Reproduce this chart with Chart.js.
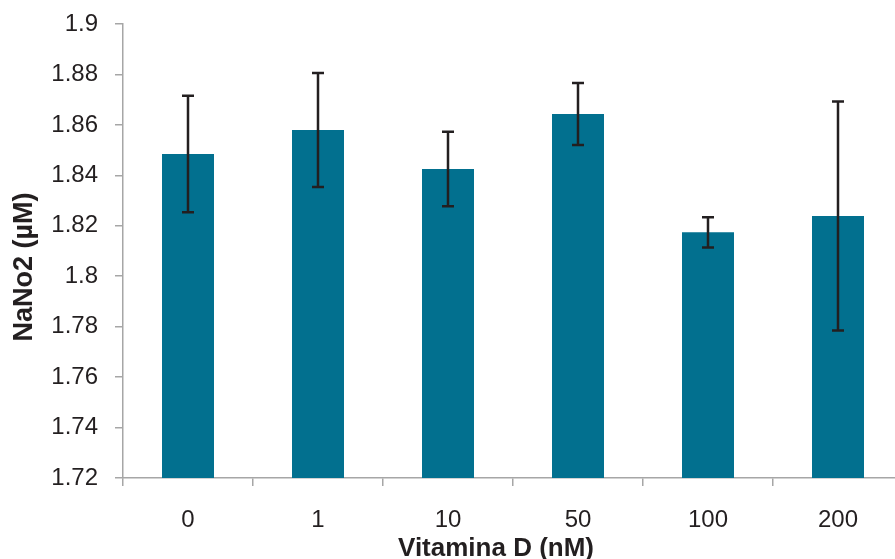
<!DOCTYPE html>
<html>
<head>
<meta charset="utf-8">
<script src="https://cdn.jsdelivr.net/npm/chart.js@4.4.1/dist/chart.umd.min.js"></script>
<style>
  html, body { margin: 0; padding: 0; background: #fff; overflow: hidden; }
  #wrap { width: 905px; height: 559px; }
</style>
</head>
<body>
<div id="wrap"><canvas id="nitriteChart" width="905" height="559"></canvas></div>
<script>
// --------------------
// Data
// --------------------
const doseLabels = ['0', '1', '10', '50', '100', '200'];
const nitriteMeans = [1.8485, 1.8580, 1.8425, 1.8643, 1.8174, 1.8239];
const nitriteErrors = [0.0231, 0.0226, 0.0148, 0.0123, 0.0060, 0.0454];
const yTickValues = [1.72, 1.74, 1.76, 1.78, 1.8, 1.82, 1.84, 1.86, 1.88, 1.9];
const yTickLabels = ['1.72', '1.74', '1.76', '1.78', '1.8', '1.82', '1.84', '1.86', '1.88', '1.9'];

const axisColor = '#a6a6a6';
const textColor = '#231f20';
const fontFamily = '"Liberation Sans", Arial, sans-serif';

// --------------------
// Error bars
// --------------------
const errorBarPlugin = {
    id: 'errorBars',
    afterDatasetsDraw(chart) {
        const { ctx } = chart;
        const yScale = chart.scales.y;
        const meta = chart.getDatasetMeta(0);
        ctx.save();
        ctx.strokeStyle = '#231f20';
        ctx.lineWidth = 2.5;
        meta.data.forEach((bar, i) => {
            const top = yScale.getPixelForValue(nitriteMeans[i] + nitriteErrors[i]);
            const bottom = yScale.getPixelForValue(nitriteMeans[i] - nitriteErrors[i]);
            const x = bar.x;
            ctx.beginPath();
            ctx.moveTo(x, top);
            ctx.lineTo(x, bottom);
            ctx.moveTo(x - 6, top);
            ctx.lineTo(x + 6, top);
            ctx.moveTo(x - 6, bottom);
            ctx.lineTo(x + 6, bottom);
            ctx.stroke();
        });
        ctx.restore();
    }
};

// axis titles, placed off the plot centre like the Excel original
const axisTitlePlugin = {
    id: 'axisTitles',
    afterDraw(chart) {
        const { ctx, chartArea } = chart;
        ctx.save();
        ctx.fillStyle = textColor;
        ctx.textAlign = 'center';
        ctx.textBaseline = 'alphabetic';
        ctx.font = 'bold 26px ' + fontFamily;
        ctx.fillText('Vitamina D (nM)', (chartArea.left + chartArea.right) / 2 - 17, chartArea.bottom + 78);

        ctx.font = 'bold 27px ' + fontFamily;
        ctx.translate(32, (chartArea.top + chartArea.bottom) / 2 + 16);
        ctx.rotate(-Math.PI / 2);
        ctx.fillText('NaNo2 (µM)', 0, 0);
        ctx.restore();
    }
};

// --------------------
// Chart
// --------------------
const ctx = document.getElementById('nitriteChart').getContext('2d');

new Chart(ctx, {
    type: 'bar',
    data: {
        labels: doseLabels,
        datasets: [{
            data: nitriteMeans,
            backgroundColor: '#02708f',
            borderWidth: 0,
            barPercentage: 0.8,
            categoryPercentage: 0.5
        }]
    },
    options: {
        responsive: false,
        animation: false,
        layout: { padding: { top: 24, right: 2, left: 0, bottom: 0 } },
        plugins: {
            legend: { display: false },
            tooltip: { enabled: false }
        },
        scales: {
            x: {
                afterFit(scale) { scale.height = 81; },
                grid: {
                    display: true,
                    drawOnChartArea: false,
                    offset: true,
                    color: axisColor,
                    lineWidth: 1.5,
                    tickLength: 8
                },
                border: { color: axisColor, width: 1.5 },
                ticks: {
                    color: textColor,
                    font: { family: fontFamily, size: 24 },
                    padding: 20
                }
            },
            y: {
                min: 1.72,
                max: 1.9,
                afterFit(scale) {
                    scale.width = 123;
                    scale.paddingTop = 0;
                    scale.paddingBottom = 0;
                },
                afterBuildTicks(scale) {
                    scale.ticks = yTickValues.map(v => ({ value: v }));
                },
                grid: {
                    display: true,
                    drawOnChartArea: false,
                    color: axisColor,
                    lineWidth: 1.5,
                    tickLength: 8
                },
                border: { color: axisColor, width: 1.5 },
                ticks: {
                    color: textColor,
                    font: { family: fontFamily, size: 24 },
                    padding: 17,
                    callback: (value, index) => yTickLabels[index]
                }
            }
        }
    },
    plugins: [errorBarPlugin, axisTitlePlugin]
});
</script>
</body>
</html>
